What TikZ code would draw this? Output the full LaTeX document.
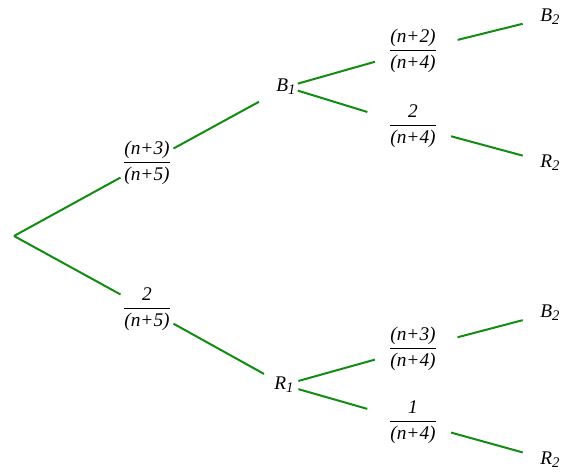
\documentclass[tikz,border=0pt]{standalone}
\usepackage{fontspec}
\setmainfont{Liberation Serif}
\usetikzlibrary{arrows.meta}
\definecolor{branch}{RGB}{18,140,18}
\newcommand{\frc}[2]{$\displaystyle\frac{\hbox{\itshape #1}}{\hbox{\itshape #2}}$}
\newcommand{\ev}[2]{\textit{#1}\raisebox{-0.35ex}{\fontsize{11}{12}\selectfont\itshape #2}}
\tikzset{prob/.style={inner sep=1.5pt,font=\fontsize{14.5}{16}\selectfont},
  event/.style={prob},
  br/.style={branch,line width=1.5pt}}

\begin{document}
\begin{tikzpicture}[x=0.75pt,y=-0.75pt]
\useasboundingbox (0,0) rectangle (569,473);
\coordinate (root) at (14,236);
\node[prob] (pB) at (147,163){\frc{(n+3)}{(n+5)}};
\node[prob] (pR) at (147,309){\frc{2}{(n+5)}};
\node[event] (B1) at (286,87){\ev{B}{1}}; \node[event] (R1) at (284,385){\ev{R}{1}};
\node[prob] (pBB) at (413,51){\frc{(n+2)}{(n+4)}};
\node[prob] (pBR) at (413,126){\frc{2}{(n+4)}};
\node[prob] (pRB) at (413,349){\frc{(n+3)}{(n+4)}};
\node[prob] (pRR) at (413,422){\frc{1}{(n+4)}};
\node[event] (BB) at (550,17){\ev{B}{2}}; \node[event] (BR) at (550,163){\ev{R}{2}};
\node[event] (RB) at (550,313){\ev{B}{2}}; \node[event] (RR) at (550,460){\ev{R}{2}};
\draw[br] (root)--(pB); \draw[br,shorten >=13pt] (pB)--(B1);
\draw[br] (root)--(pR); \draw[br,shorten >=7pt] (pR)--(R1);
\draw[br,shorten >=9pt] (B1)--(pBB); \draw[br,shorten >=15pt] (B1)--(pBR);
\draw[br,shorten <=2pt,shorten >=9pt] (R1)--(pRB); \draw[br,shorten <=2pt,shorten >=15pt] (R1)--(pRR);
\draw[br,shorten <=14pt,shorten >=12pt] (pBB)--(BB); \draw[br,shorten <=9pt,shorten >=12pt] (pBR)--(BR);
\draw[br,shorten <=14pt,shorten >=12pt] (pRB)--(RB); \draw[br,shorten <=9pt,shorten >=12pt] (pRR)--(RR);
\end{tikzpicture}
\end{document}
